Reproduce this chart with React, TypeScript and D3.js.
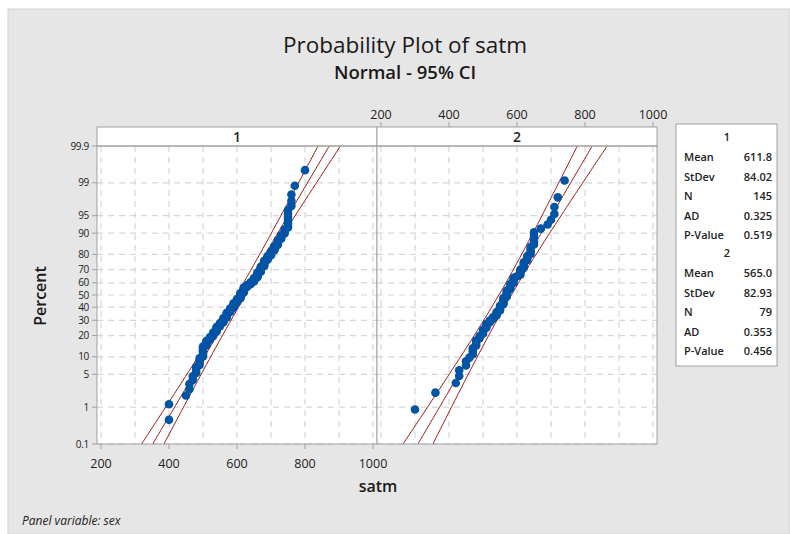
import React from 'react';
import * as d3 from 'd3';

const percentTicks = [0.1, 1, 5, 10, 20, 30, 40, 50, 60, 70, 80, 90, 95, 99, 99.9];
const xTicks = [200, 400, 600, 800, 1000];
const xGrid = [200, 300, 400, 500, 600, 700, 800, 900, 1000];
const panelNames = ['1', '2'];
const statLabels = ['Mean', 'StDev', 'N', 'AD', 'P-Value'];
const stats1 = ['611.8', '84.02', '145', '0.325', '0.519'];
const stats2 = ['565.0', '82.93', '79', '0.353', '0.456'];
const means = [611.8, 565.0];
const sds = [84.02, 82.93];

const satm1 = [
  400, 400, 450, 460, 460, 470, 470, 480, 480, 480,
  490, 490, 490, 490, 500, 500, 500, 500,
  500, 500, 500, 510, 510, 510, 510,
  520, 520, 520, 530, 530, 530, 530, 540, 540, 540, 540, 540, 550,
  550, 550, 550, 560, 560, 560, 560, 560, 570, 570, 570, 570, 570, 570,
  580, 580, 580, 580, 580, 590, 590, 590, 590, 590, 590,
  600, 600, 600, 600, 600, 610, 610, 610, 610, 610, 610, 610, 620, 620, 620, 620, 620, 620, 620,
  630, 630, 630, 640, 640, 640, 650, 650,
  650, 650, 650, 660, 660, 660, 660, 660, 660, 670, 670, 670, 670, 670, 670, 680, 680, 680,
  680, 680, 680, 690, 690, 690, 690, 700, 700,
  700, 700, 710, 710, 710, 710, 720, 720, 720, 720, 730, 730, 730, 740,
  740, 740, 750, 750, 750,
  750, 750, 750, 750,
  760, 760, 760, 770, 800,
];

const satm2 = [
  300, 360, 420, 430, 430,
  450, 450, 460, 470,
  470, 470, 480, 480, 480,
  490, 490, 500, 500, 500,
  510, 510, 510, 520, 520,
  530, 530, 540, 540, 540, 550,
  550, 550, 550, 560, 560, 560, 560, 560, 570, 570, 570,
  570, 570, 580, 580, 580, 580, 590, 590, 590, 590,
  600, 610, 610, 610, 610, 620, 620, 620, 620, 630, 630,
  630, 640, 640, 640, 640, 650, 650,
  650, 650, 650,
  670, 690, 700, 710, 710, 720, 740,
];

const datasets = [satm1, satm2];
const allStats = [stats1, stats2];

// inverse standard normal CDF (Acklam)
function invNorm(p: number): number {
  const a = [-3.969683028665376e1, 2.209460984245205e2, -2.759285104469687e2, 1.38357751867269e2, -3.066479806614716e1, 2.506628277459239];
  const b = [-5.447609879822406e1, 1.615858368580409e2, -1.556989798598866e2, 6.680131188771972e1, -1.328068155288572e1];
  const c = [-7.784894002430293e-3, -3.223964580411365e-1, -2.400758277161838, -2.549732539343734, 4.374664141464968, 2.938163982698783];
  const d = [7.784695709041462e-3, 3.224671290700398e-1, 2.445134137142996, 3.754408661907416];
  const pl = 0.02425;
  let q, r;
  if (p < pl) {
    q = Math.sqrt(-2 * Math.log(p));
    return (((((c[0] * q + c[1]) * q + c[2]) * q + c[3]) * q + c[4]) * q + c[5]) / ((((d[0] * q + d[1]) * q + d[2]) * q + d[3]) * q + 1);
  } else if (p <= 1 - pl) {
    q = p - 0.5; r = q * q;
    return (((((a[0] * r + a[1]) * r + a[2]) * r + a[3]) * r + a[4]) * r + a[5]) * q / (((((b[0] * r + b[1]) * r + b[2]) * r + b[3]) * r + b[4]) * r + 1);
  }
  q = Math.sqrt(-2 * Math.log(1 - p));
  return -(((((c[0] * q + c[1]) * q + c[2]) * q + c[3]) * q + c[4]) * q + c[5]) / ((((d[0] * q + d[1]) * q + d[2]) * q + d[3]) * q + 1);
}

const W = 790, H = 534;
const plotTop = 146, plotBottom = 444, stripTop = 127;
const panelX = [97, 377];
const panelW = 280;
const zMax = invNorm(0.999);
const yScale = d3.scaleLinear().domain([-zMax, zMax]).range([plotBottom, plotTop]);
const yP = (pct: number) => yScale(invNorm(pct / 100));

const font = "'Segoe UI', 'Open Sans', 'Noto Sans', sans-serif";
const red = '#a31515';
const blue = '#0054a6';
const frame = '#a0a0a0';
const gridC = '#d6d6d6';

export default function App() {
  const zs = d3.range(-zMax - 0.05, zMax + 0.1, 0.05);
  return (
    <svg width={W} height={H} style={{ position: 'absolute', left: 0, top: 0, fontFamily: font }}>
      <rect x={0} y={0} width={W} height={H} fill="#ffffff" />
      <rect x={8} y={9} width={W - 8} height={H - 9} fill="#e6e6e6" stroke="#d2d2d2" strokeWidth={1} />
      <text x={405} y={53} textAnchor="middle" fontSize={22.5} fontWeight={500} fill="#1a1a1a">Probability Plot of satm</text>
      <text x={405} y={79} textAnchor="middle" fontSize={18.5} fontWeight={600} fill="#1a1a1a">Normal - 95% CI</text>

      {panelNames.map((name, pi) => {
        const x0 = panelX[pi];
        const xs = d3.scaleLinear().domain([188.2, 1011.8]).range([x0, x0 + panelW]);
        const data = datasets[pi];
        const n = data.length;
        const m = means[pi], s = sds[pi];
        const fit = d3.line<number>().x(z => xs(m + s * z)).y(z => yScale(z));
        const hw = (z: number) => 1.96 * s * Math.sqrt(1 / n + (z * z) / (2 * n));
        const lo = d3.line<number>().x(z => xs(m + s * z - hw(z))).y(z => yScale(z));
        const hi = d3.line<number>().x(z => xs(m + s * z + hw(z))).y(z => yScale(z));
        const clipId = `clip${pi}`;
        return (
          <g key={name}>
            <defs>
              <clipPath id={clipId}>
                <rect x={x0} y={plotTop} width={panelW} height={plotBottom - plotTop} />
              </clipPath>
            </defs>
            <rect x={x0} y={stripTop} width={panelW} height={plotBottom - stripTop} fill="#ffffff" />
            {xGrid.map(v => (
              <line key={'gx' + v} x1={xs(v)} x2={xs(v)} y1={plotTop} y2={plotBottom} stroke={gridC} strokeDasharray="6,5" strokeWidth={1.2} />
            ))}
            {percentTicks.map(p => (
              <line key={'gy' + p} x1={x0} x2={x0 + panelW} y1={yP(p)} y2={yP(p)} stroke={gridC} strokeDasharray="6,5" strokeWidth={1.2} />
            ))}
            <g clipPath={`url(#${clipId})`}>
              <path d={lo(zs) || ''} fill="none" stroke={red} strokeWidth={1} />
              <path d={fit(zs) || ''} fill="none" stroke={red} strokeWidth={1} />
              <path d={hi(zs) || ''} fill="none" stroke={red} strokeWidth={1} />
            </g>
            {data.map((v, i) => (
              <circle key={i} cx={xs(v)} cy={yP(((i + 1 - 0.3) / (n + 0.4)) * 100)} r={4.3} fill={blue} />
            ))}
            <rect x={x0} y={stripTop} width={panelW} height={plotTop - stripTop} fill="#ffffff" stroke={frame} strokeWidth={1} />
            <text x={x0 + panelW / 2} y={141.5} textAnchor="middle" fontSize={14} fontWeight={600} fill="#222">{name}</text>
            <rect x={x0} y={plotTop} width={panelW} height={plotBottom - plotTop} fill="none" stroke={frame} strokeWidth={1} />
            {pi === 0 && xTicks.map(v => (
              <g key={'bt' + v}>
                <line x1={xs(v)} x2={xs(v)} y1={plotBottom} y2={plotBottom + 5} stroke={frame} />
                <text x={xs(v)} y={468} textAnchor="middle" fontSize={12.5} fill="#222">{v}</text>
              </g>
            ))}
            {pi === 1 && xTicks.map(v => (
              <g key={'tt' + v}>
                <line x1={xs(v)} x2={xs(v)} y1={stripTop} y2={stripTop - 5} stroke={frame} />
                <text x={xs(v)} y={119} textAnchor="middle" fontSize={12.5} fill="#222">{v}</text>
              </g>
            ))}
          </g>
        );
      })}

      {percentTicks.map(p => (
        <g key={'yt' + p}>
          <line x1={92} x2={97} y1={yP(p)} y2={yP(p)} stroke={frame} />
          <text x={89} y={yP(p) + 3.5} textAnchor="end" fontSize={10} fill="#222" letterSpacing={-0.3}>{p}</text>
        </g>
      ))}

      <text transform="translate(46,296) rotate(-90)" textAnchor="middle" fontSize={16} fontWeight={600} fill="#1a1a1a">Percent</text>
      <text x={378} y={492} textAnchor="middle" fontSize={16} fontWeight={600} fill="#1a1a1a">satm</text>
      <text x={22} y={525} fontSize={12} fontStyle="italic" fill="#222">Panel variable: sex</text>

      <rect x={676} y={124} width={101} height={242} fill="#ffffff" stroke={frame} strokeWidth={1} />
      {allStats.map((st, gi) => {
        const base = 137 + gi * 116;
        return (
          <g key={'lg' + gi}>
            <text x={727} y={base + 4} textAnchor="middle" fontSize={11} fontWeight={600} fill="#222">{panelNames[gi]}</text>
            {statLabels.map((lab, k) => (
              <g key={lab}>
                <text x={684} y={base + 20 + k * 19.5 + 4} fontSize={11} fontWeight={600} fill="#222">{lab}</text>
                <text x={772} y={base + 20 + k * 19.5 + 4} textAnchor="end" fontSize={11} fontWeight={600} fill="#222">{st[k]}</text>
              </g>
            ))}
          </g>
        );
      })}
    </svg>
  );
}
